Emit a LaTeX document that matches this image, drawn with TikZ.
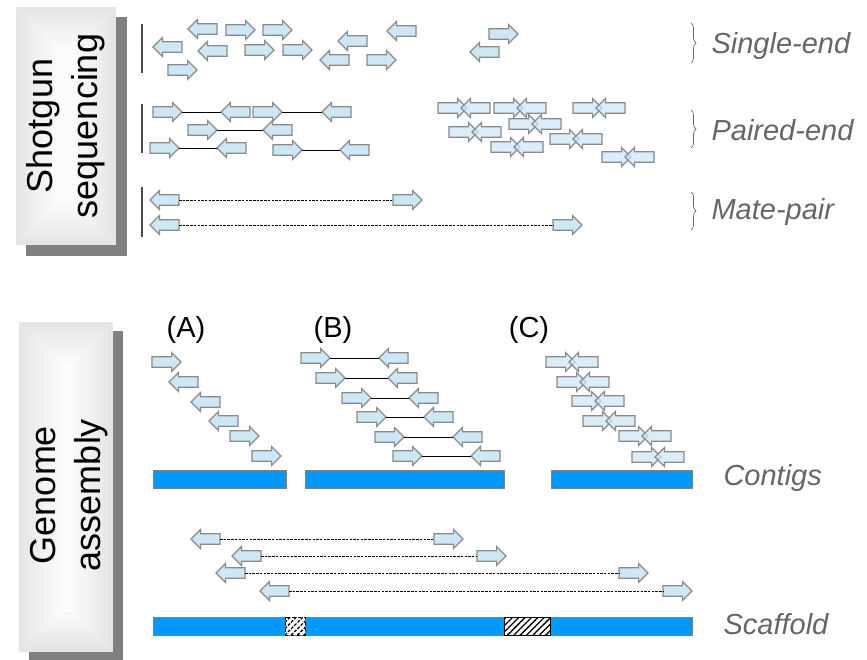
\documentclass[tikz,border=0pt]{standalone}
\usepackage{fontspec}
\setmainfont{Liberation Sans}
\usetikzlibrary{shapes.arrows, decorations.pathreplacing, patterns.meta}

\definecolor{readfill}{HTML}{CCE8F6}
\definecolor{readline}{HTML}{8A8A8A}
\definecolor{contigblue}{HTML}{0099FF}
\definecolor{labelgray}{HTML}{666666}

\tikzset{
  read/.style={single arrow, draw=readline, fill=readfill, line width=1.2pt,
    inner xsep=0pt, inner ysep=4.6pt, outer sep=0pt,
    minimum height=29pt, minimum width=18pt, single arrow head extend=4.2pt},
  fwd/.style={read, anchor=tail},
  rev/.style={read, shape border rotate=180, anchor=tip},
  xread/.style={fill opacity=0.75},
  pairline/.style={black, line width=0.7pt},
  mateline/.style={black, line width=0.6pt, dash pattern=on 2.5pt off 1.2pt},
  readbar/.style={black!70, line width=1.2pt},
  contig/.style={draw=gray, fill=contigblue, line width=0.8pt},
  gap/.style={draw=black, line width=0.8pt, preaction={fill=white},
    pattern={Lines[angle=45, distance=4.5pt, line width=1.3pt]}},
  libbrace/.style={labelgray, line width=0.7pt, decorate, decoration={brace, amplitude=5pt}},
  liblabel/.style={anchor=west, text=labelgray, font=\fontsize{29}{34}\selectfont\itshape},
  panel/.style={font=\fontsize{29}{34}\selectfont},
  sidelabel/.style={rotate=90, align=center, font=\fontsize{36}{45}\selectfont},
}

\begin{document}
\begin{tikzpicture}[x=1pt, y=-1pt]
  \useasboundingbox (0,0) rectangle (867,659);

  % side boxes
  \fill[gray] (26,17) rectangle (127,256);
  \foreach \k [evaluate=\k as \pct using 10-1.1*\k] in {0,...,8}
    \fill[black!\pct] (16+5*\k,7+5*\k) rectangle (116-5*\k,245-5*\k);
  \node[sidelabel] (shotgun) at (66,126) {Shotgun\\sequencing};

  \fill[gray] (29,331) rectangle (123,660);
  \foreach \k [evaluate=\k as \pct using 10-1.1*\k] in {0,...,8}
    \fill[black!\pct] (19+5*\k,322+5*\k) rectangle (113-5*\k,652-5*\k);
  \node[sidelabel] (genome) at (69,495) {Genome\\assembly};

  % single-end
  \draw[readbar] (142,24) -- (142,73);
  \foreach \x/\y [count=\i] in {226/30,263/30,245/50,283/50,367/60,168/70,489/34}
    \node[fwd] (sef\i) at (\x,\y) {};
  \foreach \x/\y [count=\i] in {188/29,387/31,153/47,198/51,338/41,320/60,470/52}
    \node[rev] (ser\i) at (\x,\y) {};

  % paired-end
  \draw[readbar] (142,104) -- (142,153);
  \foreach \a/\b/\y [count=\i] in {153/221/112,253/322/112,188/263/130,150/217/148,273/340/150}{
    \node[fwd] (pef\i) at (\a,\y) {};
    \node[rev] (per\i) at (\b,\y) {};
    \draw[pairline] (pef\i.tip) -- (per\i.tip);
  }
  \foreach \a/\y [count=\i] in {438/108,494/108,573/108,449/132,509/124,491/147,550/139,602/157}{
    \node[fwd, xread] (pxf\i) at (\a,\y) {};
    \node[rev, xread] (pxr\i) at (\a+23,\y) {};
  }

  % mate-pair
  \draw[readbar] (142,187) -- (142,237);
  \foreach \a/\b/\y [count=\i] in {150/393/200,150/553/225}{
    \node[rev] (mpr\i) at (\a,\y) {};
    \node[fwd] (mpf\i) at (\b,\y) {};
    \draw[mateline] (mpr\i.tail) -- (mpf\i.tail);
  }

  \draw[libbrace] (691,23) -- (691,63);
  \node[liblabel] (single) at (708,46) {Single-end};
  \draw[libbrace] (691,110) -- (691,148);
  \node[liblabel] (paired) at (708,130) {Paired-end};
  \draw[libbrace] (691,192) -- (691,230);
  \node[liblabel] (mate) at (708,212) {Mate-pair};

  % assembly panels
  \node[panel] (A) at (186,330) {(A)};
  \node[panel] (B) at (333,330) {(B)};
  \node[panel] (C) at (529,330) {(C)};

  \foreach \x/\y [count=\i] in {152/362,230/436,252/456}
    \node[fwd] (af\i) at (\x,\y) {};
  \foreach \x/\y [count=\i] in {169/382,191/402,209/421}
    \node[rev] (ar\i) at (\x,\y) {};

  \foreach \a/\b/\y [count=\i] in {301/379/358,316/388/378,342/409/398,357/424/417,375/453/437,393/471/456}{
    \node[fwd] (bf\i) at (\a,\y) {};
    \node[rev] (br\i) at (\b,\y) {};
    \draw[pairline] (bf\i.tip) -- (br\i.tip);
  }

  \foreach \a/\y [count=\i] in {546/362,557/382,572/401,583/421,619/436,632/457}{
    \node[fwd, xread] (cf\i) at (\a,\y) {};
    \node[rev, xread] (cr\i) at (\a+23,\y) {};
  }

  \draw[contig] (153,470) rectangle (286,488);
  \draw[contig] (305,470) rectangle (504,488);
  \draw[contig] (551,470) rectangle (692,488);
  \node[liblabel] (contigs) at (720,478) {Contigs};

  % scaffold
  \foreach \a/\b/\y [count=\i] in {191/434/539,232/477/556,216/619/573,260/663/591}{
    \node[rev] (sr\i) at (\a,\y) {};
    \node[fwd] (sf\i) at (\b,\y) {};
    \draw[mateline] (sr\i.tail) -- (sf\i.tail);
  }
  \draw[contig] (153,617) rectangle (692,635);
  \draw[gap, dashed] (285,617) rectangle (305,635);
  \draw[gap] (504,617) rectangle (550,635);
  \node[liblabel] (scaffold) at (720,624) {Scaffold};
\end{tikzpicture}
\end{document}
